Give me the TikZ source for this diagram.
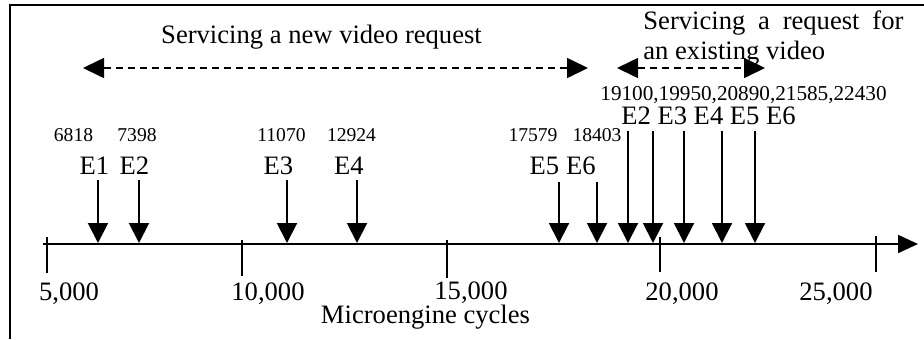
\documentclass[tikz,border=0pt]{standalone}
\usepackage{fontspec}
\setmainfont{Liberation Serif}
\usetikzlibrary{arrows.meta}
\begin{document}
\begin{tikzpicture}[x=0.5pt,y=-0.5pt,
  big/.style={font=\fontsize{13.3}{15.5}\selectfont, inner sep=0, anchor=base},
  small/.style={font=\fontsize{9.8}{11}\selectfont, inner sep=0, anchor=base},
  mid/.style={font=\fontsize{10.6}{12}\selectfont, inner sep=0, anchor=base},
  evt/.style={line width=1pt, -{Triangle[width=10pt,length=10pt]}},
  rangearrow/.style={line width=0.8pt, dash pattern=on 3.5pt off 2.5pt,
    {Triangle[width=10pt,length=10.5pt]}-{Triangle[width=10pt,length=10.5pt]}},
  tickline/.style={line width=1pt},
  frameline/.style={line width=1pt}]
\useasboundingbox (0,0) rectangle (924,339);
% frame
\coordinate (fTL) at (10,5);
\coordinate (fTR) at (924,5);
\coordinate (fBL) at (10,339);
\draw[frameline] (fBL) -- (fTL) -- (fTR);
% axis
\coordinate (axL) at (43,244);
\coordinate (axR) at (918,244);
\draw[line width=1pt, -{Triangle[width=9pt,length=10pt]}] (axL) -- (axR);
% ticks
\foreach \n/\x/\ya/\yb in {t5/47/237/273, t10/242/240/276, t15/447/240/278, t20/660/237/272, t25/876/236/272}{
  \coordinate (\n a) at (\x,\ya);
  \coordinate (\n b) at (\x,\yb);
  \draw[tickline] (\n a) -- (\n b);
}
% tick labels
\node[big] (l5)  at (69,300)  {5,000};
\node[big] (l10) at (268,300) {10,000};
\node[big] (l15) at (471,299) {15,000};
\node[big] (l20) at (682,300) {20,000};
\node[big] (l25) at (836,300) {25,000};
\node[big] (xlab) at (425.5,323) {Microengine cycles};
% range arrows and titles
\coordinate (r1a) at (83,68);
\coordinate (r1b) at (588,68);
\coordinate (r2a) at (617,68);
\coordinate (r2b) at (765,68);
\draw[rangearrow] (r1a) -- (r1b);
\draw[rangearrow] (r2a) -- (r2b);
\node[big] (title1) at (321.5,43) {Servicing a new video request};
\node[big, anchor=base west] (title2) at (643,29) {\makebox[130pt][s]{Servicing a request for}};
\node[big, anchor=base west] (title3) at (643,59) {an existing video};
% small numbers
\node[small] (n1) at (73.5,141) {6818};
\node[small] (n2) at (137,141)  {7398};
\node[small] (n3) at (281.5,141) {11070};
\node[small] (n4) at (351.5,141) {12924};
\node[small] (n5) at (533,141)  {17579};
\node[small] (n6) at (597,141)  {18403};
\node[mid] (nums) at (743.5,100) {19100,19950,20890,21585,22430};
% event labels
\node[big] (e1) at (94.5,174) {E1};
\node[big] (e2) at (134.5,174) {E2};
\node[big] (e3) at (278.5,174) {E3};
\node[big] (e4) at (349,174) {E4};
\node[big] (e5) at (544.5,174) {E5};
\node[big] (e6) at (581,174) {E6};
\node[big] (elabs) at (708.5,124) {E2 E3 E4 E5 E6};
% event arrows
\foreach \n/\x/\y in {a1/98/180, a2/139/180, a3/287/180, a4/357/180, a5/559/182, a6/597/182,
                      b2/628/131, b3/653/131, b4/684/131, b5/722/131, b6/755/131}{
  \coordinate (\n top) at (\x,\y);
  \coordinate (\n bot) at (\x,243);
  \draw[evt] (\n top) -- (\n bot);
}
\end{tikzpicture}
\end{document}
